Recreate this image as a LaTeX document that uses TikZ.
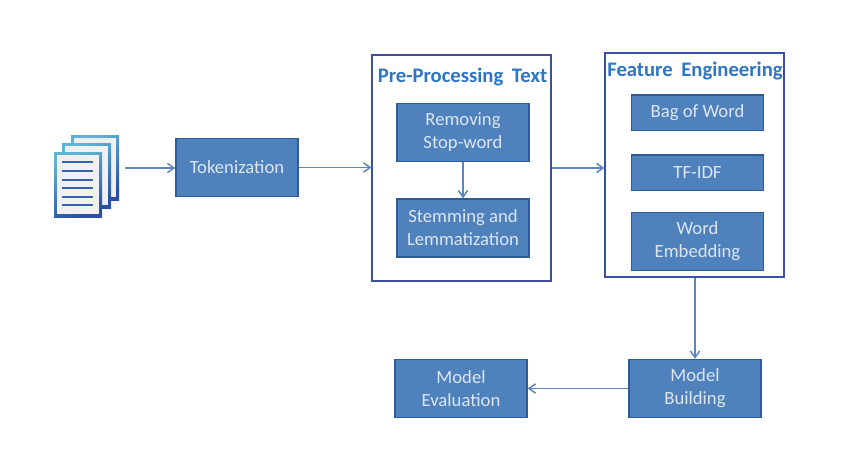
\documentclass[tikz,border=0pt]{standalone}
\usepackage{fontspec}
\setmainfont{Carlito}
\usetikzlibrary{arrows.meta}
\definecolor{boxfill}{HTML}{4F81BD}
\definecolor{boxline}{HTML}{2F5C94}
\definecolor{boxtext}{HTML}{DCE6F2}
\definecolor{titleblue}{HTML}{2E75C4}
\definecolor{frameblue}{HTML}{3F4F9F}
\definecolor{arrowblue}{HTML}{5B86C0}
\definecolor{sheetA}{HTML}{5FB4D6}
\definecolor{sheetB}{HTML}{2A4FA5}
\tikzset{
  stepbox/.style={draw=boxline,line width=1pt,fill=boxfill,text=boxtext,align=center,
    inner sep=0pt,minimum width=99pt,minimum height=43.5pt,font=\fontsize{14}{17.2}\selectfont},
  smallbox/.style={stepbox,minimum height=26.5pt},
  tokbox/.style={stepbox,minimum width=91.5pt},
  framebox/.style={draw=frameblue,line width=1.1pt,fill=white,inner sep=0pt,minimum width=134pt},
  frametitle/.style={text=titleblue,inner sep=0pt,font=\bfseries\fontsize{15.5}{17}\selectfont},
  flow/.style={draw=arrowblue,line width=1.2pt,-{Straight Barb[length=5pt,width=7pt,line width=1.1pt]}},
  sheet/.style={left color=sheetA,right color=sheetB,shading angle=25},
}
\begin{document}
\begin{tikzpicture}[x=0.75pt,y=-0.75pt]
\useasboundingbox (0,0) rectangle (846,461);
\fill[white] (0,0) rectangle (846,461);
% frames
\node[framebox,minimum height=169.5pt] (pre) at (461.5,168) {};
\node[framebox,minimum height=168pt] (fe) at (694.5,165) {};
\node[frametitle] (pretitle) at (462.5,77) {Pre-Processing\hspace{3pt} Text};
\node[frametitle] (fetitle) at (695,71) {Feature\hspace{3pt} Engineering};
% boxes
\node[tokbox] (tok) at (237,167.5) {Tokenization};
\node[stepbox] (rem) at (463,132.5) {Removing\\Stop-word};
\node[stepbox] (stem) at (463,228) {Stemming and\\Lemmatization};
\node[smallbox] (bag) at (697.5,112.5) {Bag of Word};
\node[smallbox] (tfidf) at (697.5,172.5) {TF-IDF};
\node[stepbox] (emb) at (697.5,241.5) {Word\\Embedding};
\node[stepbox] (build) at (695,388.5) {Model\\Building};
\node[stepbox] (eval) at (461,388.5) {Model\\Evaluation};
% document icon
\node[inner sep=0pt,minimum width=48.75pt,minimum height=61.5pt] (docs) at (86.5,176) {};
\foreach \xa/\ya/\xb/\yb in {71/135/119/200,62/143/111/208,54/152/102/217}{
  \shade[sheet] (\xa,\ya) rectangle (\xb,\yb);
  \fill[white!94!black] (\xa+3,\ya+3) rectangle (\xb-3,\yb-3);
}
\foreach \yy in {162,171,180,188,197,205}{
  \draw[sheetB!80!sheetA,line width=1.8pt] (62,\yy) -- (93,\yy);
}
% connectors
\coordinate (docsout) at (125,168);
\draw[flow] (docsout) -- (docsout -| tok.west);
\draw[flow] (tok.east) -- (tok.east -| pre.west);
\draw[flow] (rem.south) -- (stem.north);
\draw[flow] (pre.east) -- (pre.east -| fe.west);
\draw[flow] (build.north |- fe.south) -- (build.north);
\draw[flow] (build.west) -- (eval.east);
\end{tikzpicture}
\end{document}
